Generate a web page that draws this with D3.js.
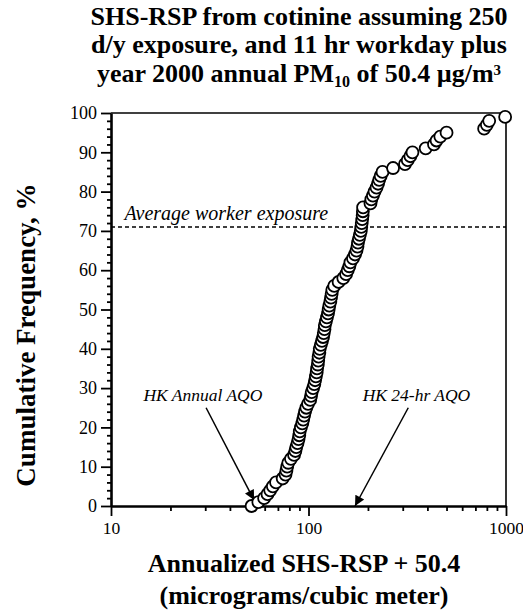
<!DOCTYPE html>
<html>
<head>
<meta charset="utf-8">
<script src="https://cdn.jsdelivr.net/npm/d3@7"></script>
<style>
  html, body { margin: 0; padding: 0; background: #fff; }
  svg { display: block; }
  text { font-family: "Liberation Serif", "Times New Roman", serif; fill: #000; }
</style>
</head>
<body>
<svg id="chart" width="523" height="612"></svg>
<script>
// ---- data ----
const shsRsp = [
  51.5, 55.7, 59.6, 62, 64, 66, 68.5, 74, 76.5, 77.3,
  78, 79, 81.5, 84.5, 85.8, 86.7, 88, 89, 89.8, 90.3,
  91.5, 93, 94, 95, 96, 97.5, 99.5, 102, 103, 103.8,
  105.5, 107, 108, 109, 110, 110.5, 111.5, 112, 112.5, 113.5,
  114, 115.5, 117, 118.5, 119.5, 120.5, 121, 122.5, 124, 125.5,
  126.5, 127.5, 129, 130, 131, 132, 135, 142, 150, 155,
  158, 161, 163, 168, 172, 175, 177, 178, 180, 182,
  184, 185, 186, 187, 188, 188.5, 189, 206, 208, 212,
  216, 221, 225, 228, 232, 237, 268, 308, 318, 328,
  336, 392, 432, 445, 465, 500, 775, 800, 822, 990
];
const cumFreq = [
  0, 1, 2, 3, 4, 5, 6, 7, 8, 9,
  10, 11, 12, 13, 14, 15, 16, 17, 18, 19,
  20, 21, 22, 23, 24, 25, 26, 27, 28, 29,
  30, 31, 32, 33, 34, 35, 36, 37, 38, 39,
  40, 41, 42, 43, 44, 45, 46, 47, 48, 49,
  50, 51, 52, 53, 54, 55, 56, 57, 58, 59,
  60, 61, 62, 63, 64, 65, 66, 67, 68, 69,
  70, 71, 72, 73, 74, 75, 76, 77, 78, 79,
  80, 81, 82, 83, 84, 85, 86, 87, 88, 89,
  90, 91, 92, 93, 94, 95, 96, 97, 98, 99
];
const xMajorTicks = [10, 100, 1000];
const xMinorTicks = [20, 30, 40, 50, 60, 70, 80, 90, 200, 300, 400, 500, 600, 700, 800, 900];
const yMajorTicks = [0, 10, 20, 30, 40, 50, 60, 70, 80, 90, 100];
const yMinorTicks = [2, 4, 6, 8, 12, 14, 16, 18, 22, 24, 26, 28, 32, 34, 36, 38, 42, 44, 46, 48,
  52, 54, 56, 58, 62, 64, 66, 68, 72, 74, 76, 78, 82, 84, 86, 88, 92, 94, 96, 98];
const avgWorkerExposure = 71;
const hkAnnualAQO = 53;
const hk24hrAQO = 172;

// ---- layout ----
const svg = d3.select("#chart");
const L = 111, R = 506, T = 113, B = 506;
const x = d3.scaleLog().domain([10, 1000]).range([L, R]);
const y = d3.scaleLinear().domain([0, 100]).range([B, T]);

// title
const title = svg.append("text").attr("text-anchor", "middle")
  .style("font-size", "26px").style("font-weight", "bold");
title.append("tspan").attr("x", 299).attr("y", 25).text("SHS-RSP from cotinine assuming 250");
title.append("tspan").attr("x", 299).attr("y", 53).text("d/y exposure, and 11 hr workday plus");
const l3 = title.append("tspan").attr("x", 299).attr("y", 82);
l3.append("tspan").text("year 2000 annual PM");
l3.append("tspan").attr("dy", 5).style("font-size", "16px").text("10");
l3.append("tspan").attr("dy", -5).text(" of 50.4 µg/m");
l3.append("tspan").attr("dy", -7).style("font-size", "15px").text("3");

// frame (top, right)
svg.append("line").attr("x1", L).attr("x2", R).attr("y1", T).attr("y2", T)
  .attr("stroke", "#000").attr("stroke-width", 1.6);
svg.append("line").attr("x1", R).attr("x2", R).attr("y1", T).attr("y2", B)
  .attr("stroke", "#000").attr("stroke-width", 1.6);

// axes
function styleAxis(g, fs) {
  g.select(".domain").attr("stroke-width", 2.6);
  g.selectAll(".tick line").attr("stroke-width", 1.8);
  g.selectAll(".tick text").style("font-family", "Liberation Serif, serif").style("font-size", fs);
}
const xMinorG = svg.append("g").attr("transform", `translate(0,${B})`)
  .call(d3.axisBottom(x).tickValues(xMinorTicks).tickSize(5).tickSizeOuter(0).tickFormat(""));
xMinorG.select(".domain").remove();
xMinorG.selectAll(".tick line").attr("stroke-width", 1.8);
const xMajorG = svg.append("g").attr("transform", `translate(0,${B})`)
  .call(d3.axisBottom(x).tickValues(xMajorTicks).tickSize(10).tickSizeOuter(0).tickPadding(6)
    .tickFormat(d3.format("d")));
styleAxis(xMajorG, "17.5px");

const yMinorG = svg.append("g").attr("transform", `translate(${L},0)`)
  .call(d3.axisLeft(y).tickValues(yMinorTicks).tickSize(4).tickSizeOuter(0).tickFormat(""));
yMinorG.select(".domain").remove();
yMinorG.selectAll(".tick line").attr("stroke-width", 1.8);
const yMajorG = svg.append("g").attr("transform", `translate(${L},0)`)
  .call(d3.axisLeft(y).tickValues(yMajorTicks).tickSize(10).tickSizeOuter(0).tickPadding(4));
styleAxis(yMajorG, "18px");

// axis titles
svg.append("text").attr("text-anchor", "middle").attr("x", 304).attr("y", 572)
  .style("font-size", "26px").style("font-weight", "bold").text("Annualized SHS-RSP + 50.4");
svg.append("text").attr("text-anchor", "middle").attr("x", 304).attr("y", 604)
  .style("font-size", "26px").style("font-weight", "bold").text("(micrograms/cubic meter)");
svg.append("text").attr("text-anchor", "middle")
  .attr("transform", "translate(35,335) rotate(-90)")
  .style("font-size", "27px").style("font-weight", "bold").text("Cumulative Frequency, %");

// average worker exposure line
svg.append("line").attr("x1", L).attr("x2", R)
  .attr("y1", y(avgWorkerExposure)).attr("y2", y(avgWorkerExposure))
  .attr("stroke", "#000").attr("stroke-width", 1.5).attr("stroke-dasharray", "4,3");
svg.append("text").attr("x", x(11.7)).attr("y", y(avgWorkerExposure) - 7)
  .style("font-size", "20px").style("font-style", "italic").text("Average worker exposure");

// arrows
const defs = svg.append("defs");
defs.append("marker").attr("id", "ah").attr("viewBox", "0 0 10 10").attr("refX", 10).attr("refY", 5)
  .attr("markerWidth", 14).attr("markerHeight", 10).attr("markerUnits", "userSpaceOnUse")
  .attr("orient", "auto")
  .append("path").attr("d", "M0,0 L10,5 L0,10 Z").attr("fill", "#000");

svg.append("text").attr("text-anchor", "middle").attr("x", x(29.2)).attr("y", y(26.7))
  .style("font-size", "17.5px").style("font-style", "italic").text("HK Annual AQO");
svg.append("line").attr("x1", x(30.3)).attr("y1", y(25)).attr("x2", x(hkAnnualAQO)).attr("y2", y(1.5))
  .attr("stroke", "#000").attr("stroke-width", 1.5).attr("marker-end", "url(#ah)");

svg.append("text").attr("text-anchor", "middle").attr("x", x(352)).attr("y", y(26.7))
  .style("font-size", "17.5px").style("font-style", "italic").text("HK 24-hr AQO");
svg.append("line").attr("x1", x(320)).attr("y1", y(25)).attr("x2", x(hk24hrAQO)).attr("y2", y(0))
  .attr("stroke", "#000").attr("stroke-width", 1.5).attr("marker-end", "url(#ah)");

// points
const pts = shsRsp.map((v, i) => ({ v, p: cumFreq[i] }));
svg.append("g").selectAll("circle").data(pts).join("circle")
  .attr("cx", d => x(d.v)).attr("cy", d => y(d.p)).attr("r", 6)
  .attr("fill", "#fff").attr("stroke", "#000").attr("stroke-width", 1.8);
</script>
</body>
</html>
